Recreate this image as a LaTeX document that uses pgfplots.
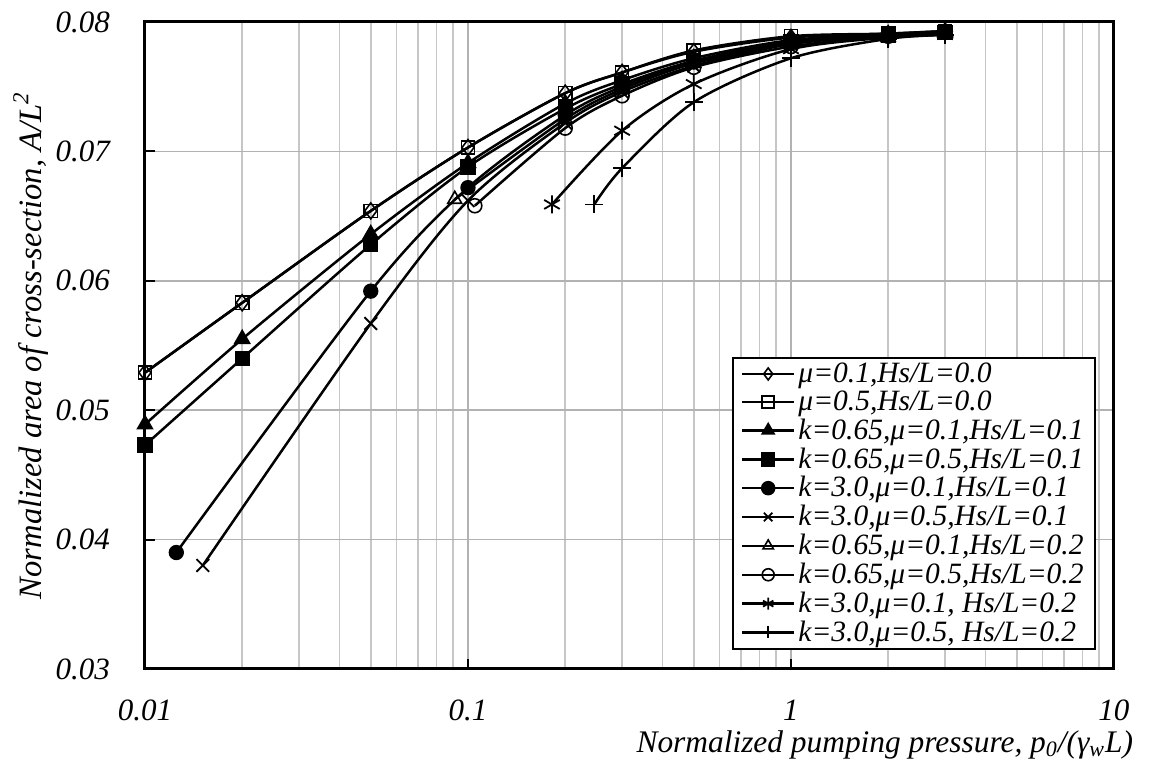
\documentclass[border=0pt]{standalone}
\usepackage{fontspec}
\setmainfont{Liberation Serif}
\usepackage{pgfplots}
\pgfplotsset{compat=1.18}
\begin{document}
\begin{tikzpicture}
\begin{axis}[
  scale only axis,
  width=484.5pt, height=323.5pt,
  xmode=log, log basis x=10,
  xmin=0.01, xmax=10, ymin=0.03, ymax=0.08,
  scaled y ticks=false,
  xtick={0.01,0.1,1,10},
  xticklabels={0.01,0.1,1,10},
  minor xtick={0.02,0.03,0.04,0.05,0.06,0.07,0.08,0.09,0.2,0.3,0.4,0.5,0.6,0.7,0.8,0.9,2,3,4,5,6,7,8,9},
  ytick={0.03,0.04,0.05,0.06,0.07,0.08},
  yticklabels={0.03,0.04,0.05,0.06,0.07,0.08},
  grid=both,
  major grid style={draw=gray!60, line width=0.8pt},
  minor grid style={draw=gray!45, line width=0.75pt},
  axis line style={line width=1.5pt},
  tick align=inside, xtick pos=bottom, ytick pos=left,
  major tick length=5pt, minor tick length=0pt,
  tick style={black, line width=1pt},
  ticklabel style={font=\fontsize{15.5}{16}\selectfont\itshape},
  xticklabel style={yshift=-12pt},
  yticklabel style={xshift=-14pt},
  xlabel={Normalized pumping pressure, \textit{p}\textsubscript{0}/(γ\textsubscript{w}\textit{L})},
  ylabel={Normalized area of cross-section, \textit{A}/\textit{L}\textsuperscript{2}},
  label style={font=\fontsize{15.7}{16}\selectfont\itshape},
  xlabel style={at={(axis description cs:1.027,-0.117)}, anchor=east},
  ylabel style={at={(axis description cs:-0.118,0.5)}, anchor=center, font=\fontsize{16.3}{17}\selectfont\itshape},
  legend cell align=left,
  legend style={at={(0.981,0.029)}, anchor=south east, draw=black, line width=1pt,
    font=\fontsize{14.75}{14}\selectfont\itshape, row sep=-0.3pt, inner xsep=4pt, inner ysep=1pt,
    nodes={inner sep=1.5pt}},
  legend image code/.code={\draw[black,solid,line width=1.25pt] (0pt,0pt) -- (26pt,0pt);
    \draw[#1,mark size=3pt] plot coordinates {(13pt,0pt)};},
  every axis plot/.append style={line width=1.25pt, black, smooth, tension=0.5},
]
\addplot[mark=diamond, mark size=4pt, mark options={fill=white, solid, line width=0.8pt}] coordinates {
(0.01,0.0529)(0.02,0.0583)(0.05,0.0654)(0.1,0.0703)(0.2,0.0745)(0.3,0.0761)(0.5,0.0777)(1,0.0788)(2,0.0791)(3,0.0793)};
\addlegendentry{μ=0.1,Hs/L=0.0}
\addplot[mark=square, mark size=3.3pt, mark options={fill=none, solid, line width=0.8pt}] coordinates {
(0.01,0.0529)(0.02,0.0583)(0.05,0.0654)(0.1,0.0703)(0.2,0.0745)(0.3,0.0761)(0.5,0.0778)(1,0.0789)(2,0.0791)(3,0.0793)};
\addlegendentry{μ=0.5,Hs/L=0.0}
\addplot[mark=triangle*, mark size=3.8pt, mark options={solid}] coordinates {
(0.01,0.0489)(0.02,0.0555)(0.05,0.0636)(0.1,0.0691)(0.2,0.0737)(0.3,0.0755)(0.5,0.0772)(1,0.0786)(2,0.0790)(3,0.0792)};
\addlegendentry{k=0.65,μ=0.1,Hs/L=0.1}
\addplot[mark=square*, mark size=3.2pt, mark options={solid}] coordinates {
(0.01,0.0473)(0.02,0.0540)(0.05,0.0628)(0.1,0.0688)(0.2,0.0733)(0.3,0.0752)(0.5,0.0770)(1,0.0785)(2,0.0790)(3,0.0792)};
\addlegendentry{k=0.65,μ=0.5,Hs/L=0.1}
\addplot[mark=*, mark size=3.2pt, mark options={solid}] coordinates {
(0.0125,0.0390)(0.05,0.0592)(0.1,0.0672)(0.2,0.0728)(0.3,0.0750)(0.5,0.0769)(1,0.0784)(2,0.0790)(3,0.0792)};
\addlegendentry{k=3.0,μ=0.1,Hs/L=0.1}
\addplot[mark=x, mark size=4.5pt, mark options={solid, line width=0.9pt}] coordinates {
(0.0151,0.0380)(0.05,0.0567)(0.1,0.0662)(0.2,0.0722)(0.3,0.0746)(0.5,0.0766)(1,0.0783)(2,0.0790)(3,0.0792)};
\addlegendentry{k=3.0,μ=0.5,Hs/L=0.1}
\addplot[mark=triangle, mark size=4pt, mark options={fill=white, solid, line width=0.8pt}] coordinates {
(0.091,0.0663)(0.2,0.0725)(0.3,0.0748)(0.5,0.0768)(1,0.0783)(2,0.0790)(3,0.0792)};
\addlegendentry{k=0.65,μ=0.1,Hs/L=0.2}
\addplot[mark=o, mark size=3.5pt, mark options={fill=white, solid, line width=0.8pt}] coordinates {
(0.105,0.0658)(0.2,0.0718)(0.3,0.0743)(0.5,0.0765)(1,0.0781)(2,0.0789)(3,0.0792)};
\addlegendentry{k=0.65,μ=0.5,Hs/L=0.2}
\addplot[mark=asterisk, mark size=4.5pt, mark options={solid, line width=0.9pt}] coordinates {
(0.182,0.0659)(0.3,0.0716)(0.5,0.0752)(1,0.0779)(2,0.0788)(3,0.0790)};
\addlegendentry{k=3.0,μ=0.1, Hs/L=0.2}
\addplot[mark=+, mark size=4.5pt, mark options={solid, line width=0.9pt}] coordinates {
(0.246,0.0659)(0.3,0.0687)(0.5,0.0738)(1,0.0772)(2,0.0787)(3,0.0790)};
\addlegendentry{k=3.0,μ=0.5, Hs/L=0.2}
\end{axis}
\pgfresetboundingbox
\useasboundingbox (-72.5pt,-50pt) rectangle (503.5pt,334.5pt);
\end{tikzpicture}
\end{document}
